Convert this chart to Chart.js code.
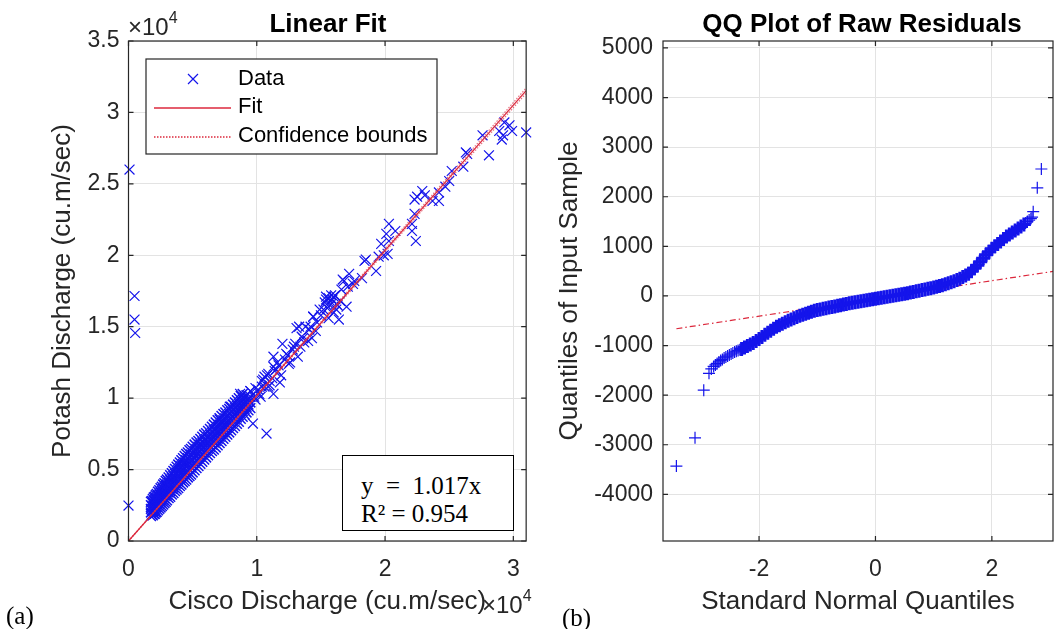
<!DOCTYPE html>
<html>
<head>
<meta charset="utf-8">
<script src="https://cdn.jsdelivr.net/npm/chart.js@4.4.0/dist/chart.umd.min.js"></script>
<style>
    html, body { margin: 0; padding: 0; background: #fff; overflow: hidden; }
    body { width: 1063px; height: 629px; position: relative; font-family: "Liberation Sans", Arial, sans-serif; color: #262626; }
    canvas { position: absolute; top: 0; }
    #fitChart { left: 0; }
    #qqChart { left: 535px; }
    .lbl { position: absolute; white-space: pre; line-height: 1; }
    .ttl { font-weight: bold; font-size: 26px; color: #000; transform: translateX(-50%); }
    .expo { font-size: 24px; color: #262626; }
    .expo sup { font-size: 16px; position: relative; top: -3px; }
    .serif { font-family: "Liberation Serif", "Times New Roman", serif; color: #000; font-size: 25px; }
    #fitBox { position: absolute; left: 342px; top: 455px; width: 172px; height: 76px; border: 1.5px solid #000; background: #fff; box-sizing: border-box; }
</style>
</head>
<body>
<canvas id="fitChart" width="535" height="629"></canvas>
<canvas id="qqChart" width="528" height="629"></canvas>

<div class="lbl ttl" style="left:328px; top:10px;">Linear Fit</div>
<div class="lbl ttl" style="left:862px; top:10px;">QQ Plot of Raw Residuals</div>
<div class="lbl expo" style="left:128px; top:13px;">×10<sup>4</sup></div>
<div class="lbl expo" style="left:482px; top:591px;">×10<sup>4</sup></div>
<div id="fitBox">
    <div class="lbl serif" style="left:18px; top:17px;">y  =  1.017x</div>
    <div class="lbl serif" style="left:18px; top:45px;">R² = 0.954</div>
</div>
<div class="lbl serif" style="left:6px; top:603px;">(a)</div>
<div class="lbl serif" style="left:562px; top:605px;">(b)</div>

<script>
    'use strict';

    // Linear fit panel: Cisco discharge (x) vs Potash discharge (y), cu.m/sec
    var lowFlowCisco = [
        1750, 1750, 1750, 1750, 1750, 1825, 1825, 1825, 1825,
        1900, 1900, 1900, 1900, 1900, 1975, 1975, 1975, 1975, 1975,
        2050, 2050, 2050, 2050, 2050, 2125, 2125, 2125, 2125, 2125,
        2200, 2200, 2200, 2200, 2200, 2300, 2300, 2300, 2300, 2300,
        2400, 2400, 2400, 2400, 2400, 2500, 2500, 2500, 2500, 2500,
        2600, 2600, 2600, 2600, 2600, 2700, 2700, 2700, 2700, 2700,
        2800, 2800, 2800, 2800, 2800, 2900, 2900, 2900, 2900, 2900,
        3000, 3000, 3000, 3000, 3000, 3125, 3125, 3125, 3125, 3125,
        3250, 3250, 3250, 3250, 3250, 3375, 3375, 3375, 3375, 3375,
        3500, 3500, 3500, 3500, 3500, 3625, 3625, 3625, 3625, 3625,
        3750, 3750, 3750, 3750, 3750, 3875, 3875, 3875, 3875, 3875,
        4000, 4000, 4000, 4000, 4000, 4125, 4125, 4125, 4125, 4125,
        4250, 4250, 4250, 4250, 4250, 4375, 4375, 4375, 4375, 4375,
        4500, 4500, 4500, 4500, 4500, 4625, 4625, 4625, 4625, 4625,
        4750, 4750, 4750, 4750, 4750, 4875, 4875, 4875, 4875, 4875,
        5000, 5000, 5000, 5000, 5000, 5150, 5150, 5150, 5150, 5150,
        5300, 5300, 5300, 5300, 5300, 5450, 5450, 5450, 5450, 5450,
        5600, 5600, 5600, 5600, 5600, 5750, 5750, 5750, 5750, 5750,
        5900, 5900, 5900, 5900, 5900, 6050, 6050, 6050, 6050, 6050,
        6200, 6200, 6200, 6200, 6200, 6350, 6350, 6350, 6350, 6350,
        6500, 6500, 6500, 6500, 6500, 6650, 6650, 6650, 6650, 6650,
        6800, 6800, 6800, 6800, 6800, 6950, 6950, 6950, 6950, 6950,
        7100, 7100, 7100, 7100, 7100, 7250, 7250, 7250, 7250, 7250,
        7400, 7400, 7400, 7400, 7400, 7550, 7550, 7550, 7550, 7550,
        7700, 7700, 7700, 7700, 7700, 7850, 7850, 7850, 7850, 7850,
        8000, 8000, 8000, 8000, 8000, 8150, 8150, 8150, 8150, 8150,
        8300, 8300, 8300, 8300, 8300, 8450, 8450, 8450, 8450, 8450,
        8600, 8600, 8600, 8600, 8600, 8750, 8750, 8750, 8750, 8750,
        8900, 8900, 8900, 8900, 8900, 9050, 9050, 9050, 9050,
        9200, 9200, 9200, 9200, 9350, 9350, 9350, 9500, 9500, 9500
    ];
    var lowFlowPotash = [
        1750, 2000, 2250, 2500, 2750, 1850, 2150, 2450, 2800,
        1800, 2100, 2400, 2700, 2950, 1900, 2200, 2500, 2800, 3050,
        1900, 2250, 2550, 2850, 3100, 2000, 2350, 2650, 2950, 3200,
        2050, 2400, 2700, 3000, 3300, 2150, 2500, 2850, 3150, 3450,
        2250, 2600, 2950, 3250, 3550, 2350, 2700, 3050, 3400, 3700,
        2450, 2800, 3150, 3500, 3800, 2550, 2900, 3300, 3650, 3950,
        2650, 3000, 3400, 3750, 4050, 2750, 3150, 3500, 3850, 4200,
        2850, 3250, 3600, 3950, 4300, 3000, 3400, 3750, 4100, 4450,
        3100, 3500, 3900, 4250, 4600, 3250, 3650, 4050, 4400, 4750,
        3350, 3750, 4150, 4550, 4900, 3500, 3900, 4300, 4700, 5050,
        3600, 4000, 4400, 4800, 5200, 3700, 4150, 4550, 4950, 5350,
        3850, 4300, 4700, 5100, 5500, 3950, 4400, 4800, 5250, 5650,
        4100, 4550, 4950, 5400, 5800, 4200, 4650, 5100, 5500, 5950,
        4300, 4800, 5200, 5650, 6100, 4450, 4900, 5350, 5800, 6200,
        4550, 5050, 5450, 5900, 6350, 4650, 5150, 5600, 6050, 6450,
        4800, 5300, 5700, 6150, 6600, 4950, 5450, 5850, 6300, 6750,
        5100, 5600, 6000, 6450, 6900, 5250, 5750, 6150, 6600, 7000,
        5400, 5900, 6300, 6750, 7150, 5550, 6050, 6450, 6900, 7300,
        5700, 6200, 6600, 7050, 7450, 5850, 6300, 6750, 7150, 7550,
        6000, 6450, 6900, 7300, 7700, 6150, 6600, 7050, 7450, 7850,
        6300, 6750, 7150, 7600, 8000, 6400, 6900, 7300, 7750, 8150,
        6550, 7000, 7450, 7850, 8300, 6700, 7150, 7600, 8000, 8450,
        6850, 7300, 7700, 8150, 8600, 7000, 7450, 7850, 8300, 8750,
        7150, 7600, 8000, 8450, 8900, 7300, 7750, 8150, 8600, 9000,
        7450, 7900, 8300, 8750, 9150, 7600, 8050, 8450, 8900, 9250,
        7750, 8200, 8600, 9050, 9400, 7900, 8350, 8750, 9150, 9550,
        8050, 8500, 8900, 9300, 9700, 8200, 8650, 9050, 9450, 9850,
        8350, 8800, 9200, 9600, 10000, 8550, 8950, 9350, 9750, 10150,
        8700, 9100, 9500, 9900, 10300, 8850, 9250, 9650, 10050,
        9000, 9400, 9800, 10200, 9150, 9550, 9950, 9300, 9700, 10100
    ];
    var highFlowCisco = [
        80, 470, 470, 520, 0, 9700, 10760,
        7900, 7100, 7600, 8700, 9500, 9900, 10200, 10400, 10600, 10900,
        11300, 11000, 11800, 11300, 11300, 12000, 12800, 13100, 13800, 14400,
        9500, 9900, 10400, 10600, 10900, 11200, 11500, 11600, 12200, 12400,
        12600, 13000, 13400, 13600, 14000, 14200, 14600, 15200, 15600, 15700,
        16000, 16200, 16500, 15800, 15300, 15600, 16000, 16200, 13300, 14400,
        16400, 17000, 14900, 15900, 15400, 17500, 16700, 17200, 18200, 18500,
        16800, 18400, 19300, 19500, 19700, 20200, 19900, 20100, 20300, 20800,
        20300, 22100, 22400, 22100, 22300, 22500, 22900, 23100, 23700, 24200,
        24200, 22300, 24700, 25000, 25200, 26100, 26300, 26400, 27600, 28100,
        29100, 29900, 31000, 29300, 28900, 29200, 29700,
        9800, 10100, 10300, 10500, 10800, 11000, 11400, 11700, 11900, 12300,
        12500, 12900, 13200, 13500, 13700, 14100, 14300, 14700, 15000, 15400,
        15500, 15700, 16100, 16300, 16600, 17100, 17600
    ];
    var highFlowPotash = [
        26000, 17150, 15500, 14560, 2480, 8220, 7520,
        9400, 8500, 8000, 10300, 10500, 9900, 10300, 10800, 11500, 10800,
        10300, 11200, 11100, 12200, 12900, 13800, 13400, 14900, 15000, 15700,
        10500, 10700, 11200, 10800, 11700, 11400, 12000, 12500, 12700, 13000,
        12500, 13800, 13600, 14200, 14000, 15000, 14700, 16200, 15600, 16500,
        16000, 16200, 16800, 17200, 16700, 17000, 17100, 16600, 15000, 15700,
        15500, 16400, 16200, 16900, 17100, 18000, 18300, 18700, 18400, 19700,
        18200, 19600, 18900, 19900, 20800, 20100, 20000, 21500, 22200, 21700,
        21000, 22200, 21000, 21700, 22900, 24100, 24500, 24200, 23800, 23800,
        24400, 23900, 24800, 25200, 25900, 26200, 27200, 27100, 28400, 27000,
        28100, 28700, 28600, 29300, 28700, 28400, 29100,
        10100, 10600, 10100, 11300, 11600, 10900, 11900, 12300, 11600, 13100,
        12400, 13600, 12900, 14300, 13900, 14800, 14200, 15300, 15800, 16900,
        16300, 16800, 17200, 16500, 17600, 17800, 18200
    ];
    var fitSlope = 1.017;
    var boundSlopes = [1.011, 1.023];
    var fitRange = [0, 31000];
    var fitXTicks = [0, 10000, 20000, 30000];
    var fitYTicks = [0, 5000, 10000, 15000, 20000, 25000, 30000, 35000];

    // QQ panel: standard normal quantiles vs residual quantiles
    var tailLowX = [
        -3.42, -3.10, -2.95, -2.86, -2.82, -2.78, -2.75, -2.72, -2.69, -2.66,
        -2.63, -2.60, -2.57, -2.54, -2.51, -2.48, -2.45, -2.42, -2.39, -2.36, -2.33
    ];
    var tailLowY = [
        -3430, -2860, -1900, -1560, -1470, -1420, -1390, -1360, -1330, -1300,
        -1280, -1250, -1230, -1210, -1190, -1170, -1150, -1130, -1115, -1100, -1085
    ];
    var bodyX = [
        -2.30, -2.25, -2.20, -2.15, -2.10, -2.05, -2.00, -1.95, -1.90, -1.85,
        -1.80, -1.75, -1.70, -1.65, -1.60, -1.55, -1.50, -1.45, -1.40, -1.35,
        -1.30, -1.25, -1.20, -1.15, -1.10, -1.05, -1.00, -0.95, -0.90, -0.85,
        -0.80, -0.75, -0.70, -0.65, -0.60, -0.55, -0.50, -0.45, -0.40, -0.35,
        -0.30, -0.25, -0.20, -0.15, -0.10, -0.05, 0.00, 0.05, 0.10, 0.15,
        0.20, 0.25, 0.30, 0.35, 0.40, 0.45, 0.50, 0.55, 0.60, 0.65,
        0.70, 0.75, 0.80, 0.85, 0.90, 0.95, 1.00, 1.05, 1.10, 1.15,
        1.20, 1.25, 1.30, 1.35, 1.40, 1.45, 1.50, 1.55, 1.60, 1.65,
        1.70, 1.75, 1.80, 1.85, 1.90, 1.95, 2.00, 2.05, 2.10, 2.15,
        2.20, 2.25, 2.30, 2.35, 2.40, 2.45, 2.50, 2.55
    ];
    var bodyY = [
        -1070, -1040, -1010, -980, -950, -910, -870, -825, -780, -740,
        -700, -660, -620, -590, -560, -530, -500, -475, -450, -425,
        -400, -380, -360, -340, -320, -300, -285, -272, -260, -247,
        -235, -222, -210, -197, -185, -172, -160, -147, -135, -125,
        -115, -105, -95, -85, -75, -65, -55, -45, -35, -25,
        -15, -5, 5, 15, 25, 35, 45, 57, 70, 82,
        95, 107, 120, 132, 145, 157, 170, 185, 200, 217,
        235, 255, 275, 297, 320, 348, 380, 410, 450, 500,
        560, 620, 690, 760, 830, 890, 950, 1000, 1050, 1100,
        1150, 1200, 1240, 1280, 1320, 1360, 1400, 1440
    ];
    var tailHighX = [2.58, 2.61, 2.64, 2.67, 2.69, 2.71, 2.78, 2.85];
    var tailHighY = [1470, 1500, 1530, 1560, 1590, 1700, 2180, 2560];
    var refLineX = [-3.42, 3.05];
    var refLineY = [-661, 495];
    var qqXTicks = [-2, 0, 2];
    var qqYTicks = [-4000, -3000, -2000, -1000, 0, 1000, 2000, 3000, 4000, 5000];

    var FONT = "'Liberation Sans', Arial, sans-serif";
    var INK = '#262626';
    var GRID = '#e3e3e3';
    var BLUE = 'rgb(20, 20, 235)';
    var RED = 'rgb(220, 40, 60)';

    var toPoints = function (xs, ys) {
        return xs.map(function (x, i) {
            return { x: x, y: ys[i] };
        });
    };

    var fixedTicks = function (values) {
        return function (scale) {
            scale.ticks = values.map(function (v) { return { value: v }; });
        };
    };

    // matlab style box with inward ticks on all sides
    var framePlugin = {
        id: 'frame',
        afterDatasetsDraw: function (chart) {
            var ctx = chart.ctx;
            var a = chart.chartArea;
            var xs = chart.scales.x;
            var ys = chart.scales.y;
            ctx.save();
            ctx.strokeStyle = INK;
            ctx.lineWidth = 1.2;
            ctx.strokeRect(a.left, a.top, a.right - a.left, a.bottom - a.top);
            ctx.beginPath();
            xs.ticks.forEach(function (t, i) {
                var p = xs.getPixelForTick(i);
                ctx.moveTo(p, a.bottom);
                ctx.lineTo(p, a.bottom - 5);
                ctx.moveTo(p, a.top);
                ctx.lineTo(p, a.top + 5);
            });
            ys.ticks.forEach(function (t, i) {
                var p = ys.getPixelForTick(i);
                ctx.moveTo(a.left, p);
                ctx.lineTo(a.left + 5, p);
                ctx.moveTo(a.right, p);
                ctx.lineTo(a.right - 5, p);
            });
            ctx.stroke();
            ctx.restore();
        }
    };

    var legendPlugin = {
        id: 'boxLegend',
        afterDraw: function (chart) {
            var ctx = chart.ctx;
            ctx.save();
            ctx.fillStyle = '#fff';
            ctx.fillRect(146, 59, 291, 95);
            ctx.strokeStyle = INK;
            ctx.lineWidth = 1.2;
            ctx.strokeRect(146, 59, 291, 95);

            // data marker
            ctx.strokeStyle = BLUE;
            ctx.lineWidth = 1.2;
            ctx.beginPath();
            ctx.moveTo(188, 74); ctx.lineTo(198, 84);
            ctx.moveTo(198, 74); ctx.lineTo(188, 84);
            ctx.stroke();

            // fit line
            ctx.strokeStyle = RED;
            ctx.lineWidth = 1.5;
            ctx.beginPath();
            ctx.moveTo(154, 108); ctx.lineTo(231, 108);
            ctx.stroke();

            // confidence bounds
            ctx.setLineDash([1.5, 1.5]);
            ctx.beginPath();
            ctx.moveTo(154, 137); ctx.lineTo(231, 137);
            ctx.stroke();
            ctx.setLineDash([]);

            ctx.fillStyle = '#000';
            ctx.font = '22px ' + FONT;
            ctx.textBaseline = 'middle';
            ctx.fillText('Data', 238, 79);
            ctx.fillText('Fit', 238, 107);
            ctx.fillText('Confidence bounds', 238, 136);
            ctx.restore();
        }
    };

    var axisOptions = function (o) {
        return {
            type: 'linear',
            min: o.min,
            max: o.max,
            afterFit: o.afterFit,
            afterBuildTicks: fixedTicks(o.ticks),
            border: { display: false },
            grid: { color: GRID, lineWidth: 1, drawTicks: false },
            ticks: {
                autoSkip: false,
                maxRotation: 0,
                padding: o.tickPadding,
                color: INK,
                font: { family: FONT, size: 23 },
                callback: o.format
            },
            title: {
                display: true,
                text: o.title,
                color: INK,
                font: { family: FONT, size: 26 },
                padding: o.titlePadding
            }
        };
    };

    var markerSet = function (label, points, style, radius, width) {
        return {
            label: label,
            data: points,
            pointStyle: style,
            pointRadius: radius,
            borderColor: BLUE,
            backgroundColor: BLUE,
            borderWidth: width,
            clip: 10,
            order: 5
        };
    };

    var loadLinearFitChart = function (selector) {
        var context = document.getElementById(selector);
        var fitLine = fitRange.map(function (x) { return { x: x, y: fitSlope * x }; });
        var lowBound = fitRange.map(function (x) { return { x: x, y: boundSlopes[0] * x }; });
        var highBound = fitRange.map(function (x) { return { x: x, y: boundSlopes[1] * x }; });
        var boundStyle = function (points) {
            return {
                label: 'Confidence bounds',
                data: points,
                showLine: true,
                pointRadius: 0,
                borderColor: 'rgba(225, 80, 100, 0.8)',
                borderWidth: 1.2,
                borderDash: [1.5, 1.5],
                order: 1
            };
        };

        return new Chart(context, {
            type: 'scatter',
            data: {
                datasets: [
                    markerSet('Data', toPoints(lowFlowCisco, lowFlowPotash), 'crossRot', 7, 1.5),
                    markerSet('Data', toPoints(highFlowCisco, highFlowPotash), 'crossRot', 7, 1.2),
                    boundStyle(lowBound),
                    boundStyle(highBound),
                    {
                        label: 'Fit',
                        data: fitLine,
                        showLine: true,
                        pointRadius: 0,
                        borderColor: RED,
                        borderWidth: 1.3,
                        order: 0
                    }
                ]
            },
            options: {
                responsive: false,
                animation: false,
                devicePixelRatio: 1,
                layout: { padding: { left: 0, top: 41, right: 8, bottom: 0 } },
                plugins: { legend: { display: false }, tooltip: { enabled: false } },
                scales: {
                    x: axisOptions({
                        min: 0, max: 31000, ticks: fitXTicks, tickPadding: 15,
                        title: 'Cisco Discharge (cu.m/sec)',
                        titlePadding: { top: 0, bottom: 12 },
                        format: function (v) { return String(v / 10000); },
                        afterFit: function (scale) { scale.height = 88; }
                    }),
                    y: axisOptions({
                        min: 0, max: 35000, ticks: fitYTicks, tickPadding: 9,
                        title: 'Potash Discharge (cu.m/sec)',
                        titlePadding: { top: 47, bottom: 0 },
                        format: function (v) { return String(v / 10000); },
                        afterFit: function (scale) { scale.width = 128.5; }
                    })
                }
            },
            plugins: [framePlugin, legendPlugin]
        });
    };

    var loadQQChart = function (selector) {
        var context = document.getElementById(selector);

        return new Chart(context, {
            type: 'scatter',
            data: {
                datasets: [
                    markerSet('Residuals', toPoints(tailLowX, tailLowY), 'cross', 6, 1.2),
                    markerSet('Residuals', toPoints(bodyX, bodyY), 'cross', 7, 3),
                    markerSet('Residuals', toPoints(tailHighX, tailHighY), 'cross', 6, 1.2),
                    {
                        label: 'Reference',
                        data: toPoints(refLineX, refLineY),
                        showLine: true,
                        pointRadius: 0,
                        borderColor: RED,
                        borderWidth: 1.2,
                        borderDash: [6, 3, 1.5, 3],
                        order: 8
                    }
                ]
            },
            options: {
                responsive: false,
                animation: false,
                devicePixelRatio: 1,
                layout: { padding: { left: 0, top: 41, right: 1, bottom: 0 } },
                plugins: { legend: { display: false }, tooltip: { enabled: false } },
                scales: {
                    x: axisOptions({
                        min: -3.65, max: 3.05, ticks: qqXTicks, tickPadding: 15,
                        title: 'Standard Normal Quantiles',
                        titlePadding: { top: 0, bottom: 12 },
                        format: function (v) { return String(v); },
                        afterFit: function (scale) { scale.height = 88; }
                    }),
                    y: axisOptions({
                        min: -4940, max: 5140, ticks: qqYTicks, tickPadding: 10,
                        title: 'Quantiles of Input Sample',
                        titlePadding: { top: 19, bottom: 0 },
                        format: function (v) { return String(v); },
                        afterFit: function (scale) { scale.width = 128; }
                    })
                }
            },
            plugins: [framePlugin]
        });
    };

    loadLinearFitChart('fitChart');
    loadQQChart('qqChart');
</script>
</body>
</html>
